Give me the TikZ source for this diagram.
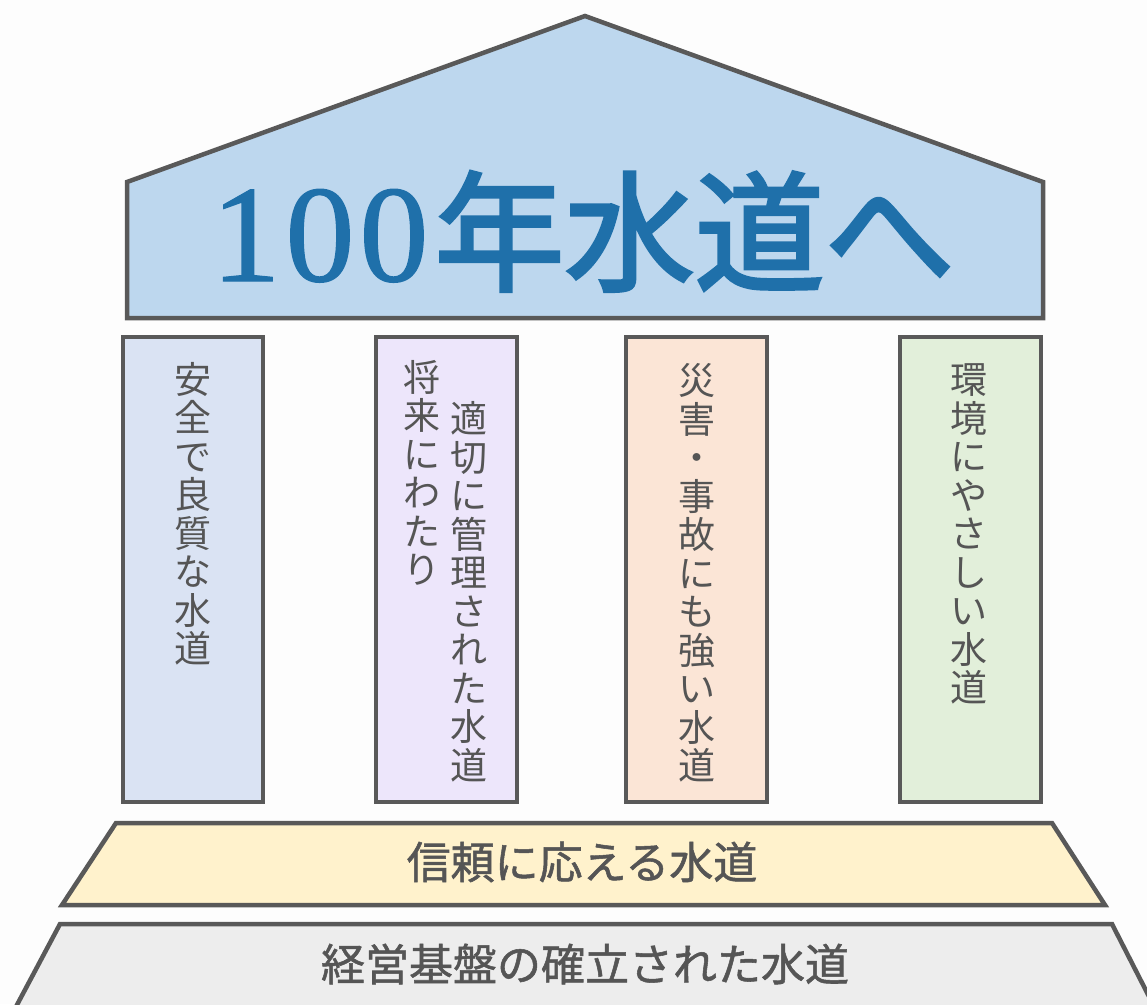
\documentclass[tikz,border=0pt]{standalone}
\usepackage{fontspec}
\newfontfamily\jpfont{Noto Sans CJK JP}
\newfontfamily\jpmed[FakeBold=1.2]{Noto Sans CJK JP}
\newfontfamily\jptitle[FakeBold=2.5]{Noto Sans CJK JP}
\newfontfamily\serfont[FakeBold=1]{Liberation Serif}
\definecolor{edgec}{RGB}{89,89,89}
\definecolor{txtc}{RGB}{85,85,85}
\definecolor{titlec}{RGB}{31,112,170}
\definecolor{roofc}{RGB}{189,215,238}
\definecolor{pillarA}{RGB}{218,227,243}
\definecolor{pillarB}{RGB}{237,230,251}
\definecolor{pillarC}{RGB}{251,229,214}
\definecolor{pillarD}{RGB}{226,239,218}
\definecolor{basey}{RGB}{255,242,204}
\definecolor{baseg}{RGB}{237,237,237}
\definecolor{bgc}{RGB}{253,253,253}
\tikzset{
  part/.style={draw=edgec, line width=4.5pt},
  vtext/.style={inner sep=0pt, align=center, text=txtc,
    font={\jpfont\fontsize{37}{38.5}\selectfont}},
  htext/.style={inner sep=0pt, text=txtc,
    font={\jpmed\fontsize{44}{48}\selectfont}},
}
\begin{document}
\begin{tikzpicture}[x=1pt,y=-1pt]
\useasboundingbox (0,0) rectangle (1147,1004);
\fill[bgc] (0,0) rectangle (1147,1004);
\begin{scope}
\clip (0,0) rectangle (1147,1004);
% roof
\path[part, fill=roofc] (585,16) -- (1043,182) -- (1043,318) -- (127,318) -- (127,182) -- cycle;
\node[anchor=base, inner sep=0pt, text=titlec] (title) at (583,281)
  {{\serfont\fontsize{138}{140}\selectfont 1\kern5pt 0\kern5pt 0}\kern6pt{\jptitle\fontsize{130}{140}\selectfont 年水道へ}};
% pillars
\path[part, fill=pillarA] (123,337) rectangle (263,802);
\path[part, fill=pillarB] (376,337) rectangle (517,802);
\path[part, fill=pillarC] (626,337) rectangle (767,802);
\path[part, fill=pillarD] (900,337) rectangle (1041,802);
\node[vtext] (p1) at (193,514) {安\\全\\で\\良\\質\\な\\水\\道};
\node[vtext] (p2a) at (422,473) {将\\来\\に\\わ\\た\\り};
\node[vtext] (p2b) at (469,592) {適\\切\\に\\管\\理\\さ\\れ\\た\\水\\道};
\node[vtext] (p3) at (697,573) {災\\害\\・\\事\\故\\に\\も\\強\\い\\水\\道};
\node[vtext] (p4) at (969,534) {環\\境\\に\\や\\さ\\し\\い\\水\\道};
% bases
\path[part, fill=basey] (116,823) -- (1052,823) -- (1105,905) -- (62,905) -- cycle;
\node[htext] (b1) at (582,862) {信頼に応える水道};
\path[part, fill=baseg] (60,924) -- (1112,924) -- (1160,1018) -- (10,1018) -- cycle;
\node[htext] (b2) at (585,964) {経営基盤の確立された水道};
\end{scope}
\end{tikzpicture}
\end{document}
